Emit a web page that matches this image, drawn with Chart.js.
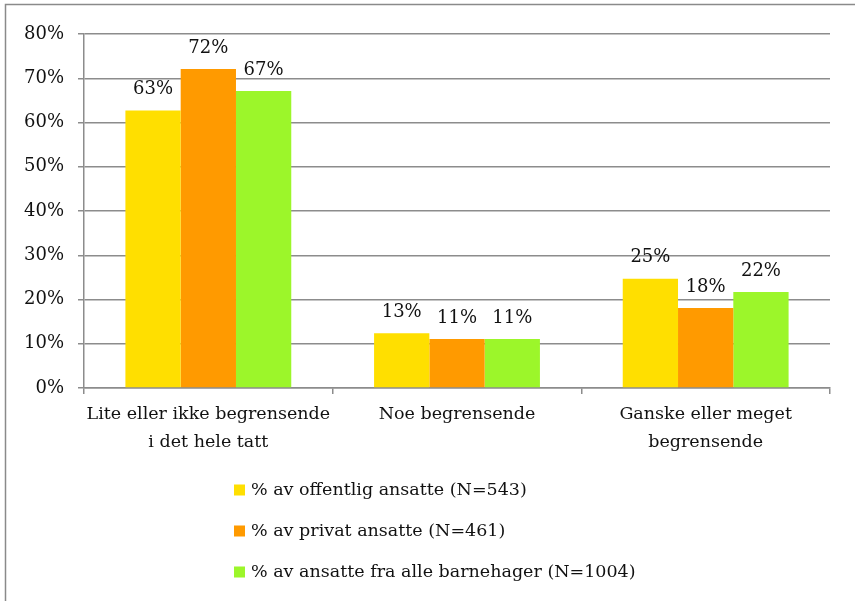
<!DOCTYPE html>
<html>
<head>
<meta charset="utf-8">
<style>
  html, body { margin: 0; padding: 0; background: #fff; }
  #wrap { width: 855px; height: 601px; position: relative; }
</style>
<script src="https://cdn.jsdelivr.net/npm/chart.js@4.4.1/dist/chart.umd.min.js"></script>
</head>
<body>
<div id="wrap"><canvas id="chart" width="855" height="601"></canvas></div>
<script>
const categories = [
  ["Lite eller ikke begrensende", "i det hele tatt"],
  "Noe begrensende",
  ["Ganske eller meget", "begrensende"]
];
const seriesNames = [
  "% av offentlig ansatte (N=543)",
  "% av privat ansatte (N=461)",
  "% av ansatte fra alle barnehager (N=1004)"
];
const offentlig = [62.7, 12.4, 24.7];
const privat = [72.1, 11.1, 18.1];
const alle = [67.1, 11.1, 21.7];
const offentligLabels = ["63%", "13%", "25%"];
const privatLabels = ["72%", "11%", "18%"];
const alleLabels = ["67%", "11%", "22%"];
const yTicks = [0, 10, 20, 30, 40, 50, 60, 70, 80];

const colors = ["#ffdf00", "#ff9a00", "#9cf62a"];
const font = "'DejaVu Serif', serif";
const gridColor = "#8c8c8c";

// etiketter over søylene
const barLabels = {
  id: "barLabels",
  afterDatasetsDraw(chart) {
    const ctx = chart.ctx;
    ctx.save();
    ctx.font = "18px " + font;
    ctx.fillStyle = "#111";
    ctx.textAlign = "center";
    ctx.textBaseline = "middle";
    chart.data.datasets.forEach((ds, i) => {
      chart.getDatasetMeta(i).data.forEach((bar, j) => {
        ctx.fillText(ds.valueLabels[j], bar.x, bar.y - 21);
      });
    });
    ctx.restore();
  }
};

// ramme + legende under diagrammet
const frameAndLegend = {
  id: "frameAndLegend",
  afterDraw(chart) {
    const ctx = chart.ctx;
    ctx.save();
    ctx.strokeStyle = "#8a8a8a";
    ctx.lineWidth = 1.5;
    ctx.beginPath();
    ctx.moveTo(5.5, 601);
    ctx.lineTo(5.5, 4.5);
    ctx.lineTo(855, 4.5);
    ctx.stroke();

    ctx.font = "17.5px " + font;
    ctx.textBaseline = "middle";
    ctx.textAlign = "left";
    chart.data.datasets.forEach((ds, i) => {
      const y = 490 + i * 41;
      ctx.fillStyle = ds.backgroundColor;
      ctx.fillRect(234, y - 5.5, 11, 11);
      ctx.fillStyle = "#111";
      ctx.fillText(ds.label, 251, y);
    });
    ctx.restore();
  }
};

new Chart(document.getElementById("chart"), {
  type: "bar",
  data: {
    labels: categories,
    datasets: [
      { label: seriesNames[0], data: offentlig, valueLabels: offentligLabels, backgroundColor: colors[0] },
      { label: seriesNames[1], data: privat, valueLabels: privatLabels, backgroundColor: colors[1] },
      { label: seriesNames[2], data: alle, valueLabels: alleLabels, backgroundColor: colors[2] }
    ]
  },
  plugins: [barLabels, frameAndLegend],
  options: {
    responsive: false,
    animation: false,
    devicePixelRatio: 1,
    layout: { padding: { left: 0, right: 25, top: 34, bottom: 0 } },
    datasets: { bar: { categoryPercentage: 0.667, barPercentage: 1 } },
    plugins: {
      legend: { display: false },
      tooltip: { enabled: false }
    },
    scales: {
      x: {
        afterFit(scale) { scale.height = 213; },
        grid: { offset: true, drawOnChartArea: false, color: gridColor, lineWidth: 1.5, tickLength: 6 },
        border: { color: gridColor, width: 1.5 },
        ticks: { color: "#111", padding: 6, font: { family: font, size: 17.5, lineHeight: 1.6 }, maxRotation: 0 }
      },
      y: {
        min: 0,
        max: 80,
        afterFit(scale) { scale.width = 84; },
        afterBuildTicks(scale) { scale.ticks = yTicks.map(v => ({ value: v })); },
        grid: { color: gridColor, lineWidth: 1.5, tickLength: 6 },
        border: { color: gridColor, width: 1.5 },
        ticks: { color: "#111", padding: 14, font: { family: font, size: 18 }, callback: v => v + "%" }
      }
    }
  }
});
</script>
</body>
</html>
